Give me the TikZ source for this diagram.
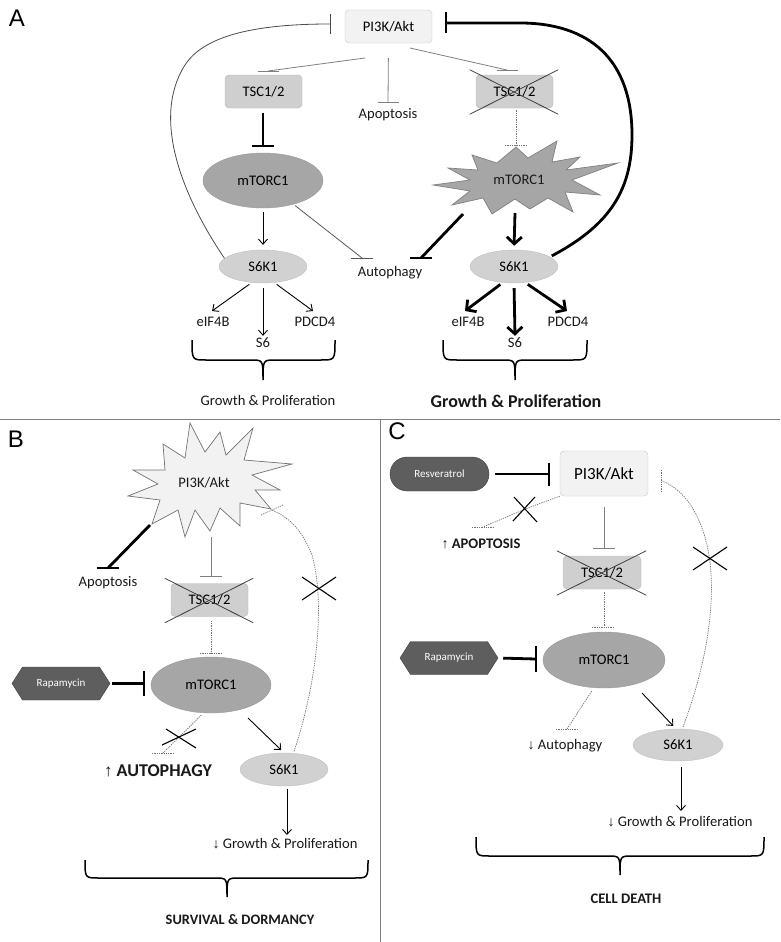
\documentclass[tikz,border=0pt]{standalone}
\usepackage{fontspec}
\setmainfont{Carlito}
\newfontfamily\arialf{Liberation Sans}
\usetikzlibrary{arrows.meta,shapes.geometric,shapes.symbols,calc}
\newcommand\fsz[1]{\fontsize{#1}{#1}\selectfont}
\newcommand\drawbrace[6]{\draw[brc] (#1,#4) .. controls (#1,#5) .. (#1+14,#5) -- (#3-12,#5) .. controls (#3,#5) .. (#3,#6) .. controls (#3,#5) .. (#3+12,#5) -- (#2-14,#5) .. controls (#2,#5) .. (#2,#4);}
\tikzset{
 lbl/.style={font=\fsz{14.6}, inner sep=0pt, text=black!90},
 panel/.style={font=\arialf\fsz{24}, inner sep=0pt},
 pibox/.style={draw=black!22, fill=black!5, rounded corners=4pt, minimum width=87pt, minimum height=33pt, inner sep=0pt, font=\fsz{14.6}},
 tscbox/.style={draw=black!28, fill=black!19, rounded corners=4pt, minimum width=77pt, minimum height=33pt, inner sep=0pt, font=\fsz{14.6}},
 mtorell/.style={ellipse, draw=black!40, fill=black!35, minimum width=120pt, minimum height=55pt, inner sep=0pt, font=\fsz{14.6}},
 s6kell/.style={ellipse, draw=black!25, fill=black!18, minimum width=88pt, minimum height=33pt, inner sep=0pt, font=\fsz{14.6}},
 drug/.style={fill=black!63, draw=black!75, text=white, font=\fsz{11}, inner sep=0pt},
 hexa/.style={drug, signal, signal to=east and west, signal pointer angle=115, minimum width=98pt, minimum height=33pt},
 burstA/.style={draw=black!50, fill=black!35, line width=0.7pt, line join=miter},
 burstB/.style={draw=black!55, fill=black!5, line width=0.7pt, line join=miter},
 sep/.style={draw=black!50, line width=0.8pt},
 gthin/.style={draw=black!50, line width=0.8pt},
 dthin/.style={draw=black!65, line width=0.8pt},
 thk/.style={draw=black, line width=2.8pt},
 arr/.style={draw=black, line width=0.9pt, -{Straight Barb[length=5pt,width=9pt]}},
 tarr/.style={draw=black, line width=2.8pt, -{Straight Barb[length=7pt,width=15pt]}},
 dot/.style={draw=black!55, line width=0.7pt, dash pattern=on 1.3pt off 1pt},
 xmark/.style={draw=black, line width=1.1pt},
 xtsc/.style={draw=black!75, line width=0.8pt},
 brc/.style={draw=black, line width=1.5pt},
}
\begin{document}
\begin{tikzpicture}[x=1pt,y=-1pt]
\useasboundingbox (0,0) rectangle (780,942);
\fill[white] (0,0) rectangle (780,942);
% separators
\coordinate (hl) at (0,419); \coordinate (hr) at (780,419);
\coordinate (vt) at (380,419); \coordinate (vb) at (380,942);
\draw[sep] (hl) -- (hr); \draw[sep] (vt) -- (vb);
% panel letters
\node[panel] (labA) at (17,18) {A};
\node[panel] (labB) at (16,439) {B};
\node[panel] (labC) at (397,431) {C};

%%%%%%%%%%%%%%%% PANEL A
\node[pibox] (piA) at (388.5,26.5) {PI3K/Akt};
\node[tscbox] (tscA1) at (263.5,91.5) {TSC1/2};
\node[tscbox] (tscA2) at (514.5,91.5) {TSC1/2};
\draw[xtsc] ($(tscA2.north west)+(-6,-5)$) -- ($(tscA2.south east)+(5,6)$);
\draw[xtsc] ($(tscA2.south west)+(-6,6)$) -- ($(tscA2.north east)+(5,-5)$);
\node[lbl] (apoA) at (388,115) {Apoptosis};
\node[mtorell] (mtorA1) at (263,180.5) {mTORC1};
\draw[burstA] (433,185) -- (470,180) -- (448,168) -- (478,170) -- (472,155) -- (497,163) -- (516,147) -- (528,158) -- (557,141) -- (552,162) -- (580,157) -- (566,170) -- (618,163) -- (572,180) -- (600,195) -- (565,192) -- (573,212) -- (548,198) -- (530,209) -- (515,199) -- (492,214) -- (483,198) -- (452,205) -- (470,191) -- cycle;
\node[lbl] (mtorA2) at (519,180) {mTORC1};
\node[lbl] (autoA) at (390,273) {Autophagy};
\node[s6kell] (s6kA1) at (263,266.5) {S6K1};
\node[s6kell] (s6kA2) at (514,266.5) {S6K1};
\node[lbl] (eifA1) at (213,322) {eIF4B};
\node[lbl] (s6A1) at (263,343) {S6};
\node[lbl] (pdA1) at (315,322) {PDCD4};
\node[lbl] (eifA2) at (468,322) {eIF4B};
\node[lbl] (s6A2) at (515,343) {S6};
\node[lbl] (pdA2) at (568,322) {PDCD4};
\node[lbl] (gpA1) at (268,400) {Growth \& Proliferation};
\node[lbl, font=\bfseries\fsz{18}] (gpA2) at (516,401) {Growth \& Proliferation};

% PI3K -> TSC (left)
\coordinate (a1s) at (365,58); \coordinate (a1e) at (268,71);
\draw[gthin] (a1s) -- (a1e); \draw[gthin] ($(a1e)+(-10.5,0)$) -- ($(a1e)+(10.5,0)$);
% PI3K -> Apoptosis
\coordinate (a2e) at (388,102);
\draw[gthin, shorten <=15pt] (piA.south) -- (a2e); \draw[gthin] ($(a2e)+(-10.5,0)$) -- ($(a2e)+(10.5,0)$);
% PI3K -> TSC (right)
\coordinate (a3s) at (410,48); \coordinate (a3e) at (507,70);
\draw[gthin] (a3s) -- (a3e); \draw[gthin] ($(a3e)+(-10.5,0)$) -- ($(a3e)+(10.5,0)$);
% TSC right -> mTORC1 burst (dotted)
\coordinate (a4e) at (516,145);
\draw[dot, shorten <=2pt] (tscA2.south -| a4e) -- (a4e); \draw[dot] ($(a4e)+(-11,0)$) -- ($(a4e)+(11,0)$);
% TSC left -| mTORC1 (thick)
\coordinate (a5e) at (263,146);
\draw[thk, shorten <=4.5pt] (tscA1.south -| a5e) -- (a5e); \draw[thk] ($(a5e)+(-11,0)$) -- ($(a5e)+(11,0)$);
% mTORC1 -> S6K1
\draw[arr, shorten <=4pt, shorten >=5pt] (mtorA1) -- (s6kA1);
% mTORC1 -| Autophagy (thin)
\coordinate (a7e) at (362,258);
\draw[dthin, shorten <=2pt] (mtorA1.-38) -- (a7e); \draw[dthin] ($(a7e)+(-11,0)$) -- ($(a7e)+(11,0)$);
% mTORC1 burst -| Autophagy (thick)
\coordinate (a8s) at (463,214); \coordinate (a8e) at (421,258);
\draw[thk] (a8s) -- (a8e); \draw[thk] ($(a8e)+(-11,0)$) -- ($(a8e)+(11,0)$);
% burst -> S6K1 thick
\coordinate (a9s) at (515,213);
\draw[tarr, shorten >=4pt] (a9s) -- (s6kA2.north);
% S6K1 left arrows
\coordinate (a10a) at (212,311); \coordinate (a10c) at (313,311);
\draw[arr, shorten <=3pt] (s6kA1.-125) -- (a10a);
\draw[arr, shorten <=5pt] (s6kA1.south) -- ($(s6A1.north)+(0,-2)$);
\draw[arr, shorten <=3pt] (s6kA1.-55) -- (a10c);
% S6K1 right thick arrows
\coordinate (a11a) at (465,311); \coordinate (a11c) at (567,311);
\draw[tarr, shorten <=3pt] (s6kA2.-125) -- (a11a);
\draw[tarr, shorten <=5pt] (s6kA2.south) -- ($(s6A2.north)+(0,-2)$);
\draw[tarr, shorten <=3pt] (s6kA2.-55) -- (a11c);
% feedback loops
\coordinate (a12e) at (330,24);
\draw[draw=black!70, line width=0.8pt] (s6kA1.168) .. controls (185,200) and (150,120) .. (185,65) .. controls (205,34) and (260,24) .. (a12e);
\draw[draw=black!70, line width=0.8pt] ($(a12e)+(0,-10)$) -- ($(a12e)+(0,10)$);
\coordinate (a13e) at (446,23);
\draw[thk, shorten <=2pt] (s6kA2.15) .. controls (610,225) and (632,190) .. (632,135) .. controls (632,60) and (590,23) .. (520,23) -- (a13e);
\draw[thk] ($(a13e)+(0,-10.5)$) -- ($(a13e)+(0,10.5)$);
% braces
\drawbrace{192}{335}{263}{340}{360}{380}
\drawbrace{443}{587}{515}{340}{360}{380}

%%%%%%%%%%%%%%%% PANEL B
\draw[burstB] (133,470) -- (165,470) -- (163,444) -- (185,458) -- (190,423) -- (205,452) -- (220,432) -- (226,455) -- (253,428) -- (244,460) -- (292,464) -- (252,475) -- (280,490) -- (255,490) -- (271,509) -- (240,503) -- (240,526) -- (220,508) -- (210,531) -- (195,510) -- (185,537) -- (178,510) -- (152,524) -- (160,500) -- (128,496) -- (158,484) -- cycle;
\node[lbl] (piB) at (204,483) {PI3K/Akt};
\node[lbl] (apoB) at (108,583) {Apoptosis};
\node[tscbox] (tscB) at (209.5,600) {TSC1/2};
\draw[xtsc] ($(tscB.north west)+(-6,-5)$) -- ($(tscB.south east)+(5,6)$);
\draw[xtsc] ($(tscB.south west)+(-6,6)$) -- ($(tscB.north east)+(5,-5)$);
\node[mtorell, minimum height=56pt] (mtorB) at (211,685) {mTORC1};
\node[hexa] (rapB) at (61,683.5) {Rapamycin};
\node[lbl, font=\bfseries\fsz{18}] (autoB) at (158,771) {{\mdseries\arialf\fsz{17}↑} AUTOPHAGY};
\node[s6kell] (s6kB) at (284,769.5) {S6K1};
\node[lbl] (gpB) at (285,844) {{\arialf\fsz{14}↓} Growth \& Proliferation};
\node[lbl, font=\bfseries\fsz{14.4}] (svB) at (240,920) {SURVIVAL \& DORMANCY};

\coordinate (b1s) at (150,525); \coordinate (b1e) at (108,568);
\draw[thk] (b1s) -- (b1e); \draw[thk] ($(b1e)+(-11,0)$) -- ($(b1e)+(11,0)$);
\coordinate (b2s) at (211,537); \coordinate (b2e) at (211,576);
\draw[gthin] (b2s) -- (b2e); \draw[gthin] ($(b2e)+(-11,0)$) -- ($(b2e)+(11,0)$);
\coordinate (b3e) at (211,653);
\draw[dot, shorten <=4pt] (tscB.south -| b3e) -- (b3e); \draw[dot] ($(b3e)+(-11,0)$) -- ($(b3e)+(10,0)$);
\coordinate (b4e) at (144,683.5);
\draw[thk, shorten <=2pt] (rapB.east) -- (b4e); \draw[thk] ($(b4e)+(0,-12.5)$) -- ($(b4e)+(0,12.5)$);
\coordinate (b5e) at (163,753);
\draw[dot, shorten <=3pt] (mtorB.-105) -- (b5e); \draw[dot] (152,753) -- (173,753);
\draw[xmark] (162,745) -- (196,729); \draw[xmark] (166,729) -- (196,748);
\coordinate (b6s) at (248,718);
\draw[arr, shorten >=4pt] (b6s) -- (s6kB.north);
\coordinate (b7e) at (287,835);
\draw[arr, shorten <=3pt] (s6kB.south -| b7e) -- (b7e);
\coordinate (b8e) at (272,510);
\draw[dot, shorten <=2pt] (s6kB.60) .. controls (318,680) and (325,600) .. (312,555) .. controls (302,530) and (290,518) .. (b8e);
\draw[dot] (261,515) -- (283,505);
\draw[xmark] (302,577) -- (336,600); \draw[xmark] (302,600) -- (336,577);
\drawbrace{85}{368}{227}{860}{878}{897}

%%%%%%%%%%%%%%%% PANEL C
\node[drug, rounded corners=17pt, minimum width=99pt, minimum height=34pt] (resC) at (439.5,474) {Resveratrol};
\node[pibox, minimum width=88pt, minimum height=45pt, font=\fsz{17}] (piC) at (604,473.5) {PI3K/Akt};
\node[lbl, font=\bfseries\fsz{14.6}] (apoC) at (481,544) {{\mdseries\arialf\fsz{14}↑} APOPTOSIS};
\node[tscbox, minimum width=78pt] (tscC) at (602,572.5) {TSC1/2};
\draw[xtsc] ($(tscC.north west)+(-6,-5)$) -- ($(tscC.south east)+(5,6)$);
\draw[xtsc] ($(tscC.south west)+(-6,6)$) -- ($(tscC.north east)+(5,-5)$);
\node[mtorell, minimum width=122pt, minimum height=56pt] (mtorC) at (604,660) {mTORC1};
\node[hexa] (rapC) at (449,658) {Rapamycin};
\node[lbl] (autoC) at (565,746) {{\arialf\fsz{14}↓} Autophagy};
\node[s6kell, minimum width=90pt, minimum height=32pt] (s6kC) at (678,745) {S6K1};
\node[lbl] (gpC) at (680,822) {{\arialf\fsz{14}↓} Growth \& Proliferation};
\node[lbl, font=\bfseries\fsz{14.6}] (cdC) at (626,899) {CELL DEATH};

\coordinate (c1e) at (549,474);
\draw[thk, shorten <=6pt] (resC.east) -- (c1e); \draw[thk] ($(c1e)+(0,-11.5)$) -- ($(c1e)+(0,11.5)$);
\coordinate (c2e) at (483,527);
\draw[dot] (piC.south west) .. controls (530,507) .. (c2e); \draw[dot] (472,527) -- (493,527);
\draw[xmark] (514,497) -- (537,522); \draw[xmark] (513,521) -- (535,497);
\coordinate (c3e) at (604,548);
\draw[gthin, shorten <=11pt] (piC.south) -- (c3e); \draw[gthin] ($(c3e)+(-11,0)$) -- ($(c3e)+(11,0)$);
\coordinate (c4e) at (604,627);
\draw[dot, shorten <=3pt] (tscC.south -| c4e) -- (c4e); \draw[dot] ($(c4e)+(-12,0)$) -- ($(c4e)+(10,0)$);
\coordinate (c5e) at (536,659);
\draw[thk, shorten <=5pt] (rapC.east) -- (c5e); \draw[thk] ($(c5e)+(0,-13)$) -- ($(c5e)+(0,13)$);
\coordinate (c6e) at (567,729);
\draw[dot, shorten <=4pt] (mtorC.-110) -- (c6e); \draw[dot] (556,729) -- (577,729);
\coordinate (c7s) at (642,693);
\draw[arr, shorten >=4pt] (c7s) -- ($(s6kC.north)+(-2,0)$);
\coordinate (c8e) at (681,811);
\draw[arr, shorten <=6pt] (s6kC.south -| c8e) -- (c8e);
\coordinate (c9e) at (662,481);
\draw[dot, shorten <=2pt] (s6kC.75) .. controls (708,660) and (716,600) .. (709,555) .. controls (702,515) and (685,490) .. (c9e);
\draw[dot] (661,470) -- (661,492);
\draw[xmark] (693,547) -- (727,570); \draw[xmark] (693,570) -- (727,547);
\drawbrace{476}{764}{620}{837}{856}{875}
\end{tikzpicture}
\end{document}
